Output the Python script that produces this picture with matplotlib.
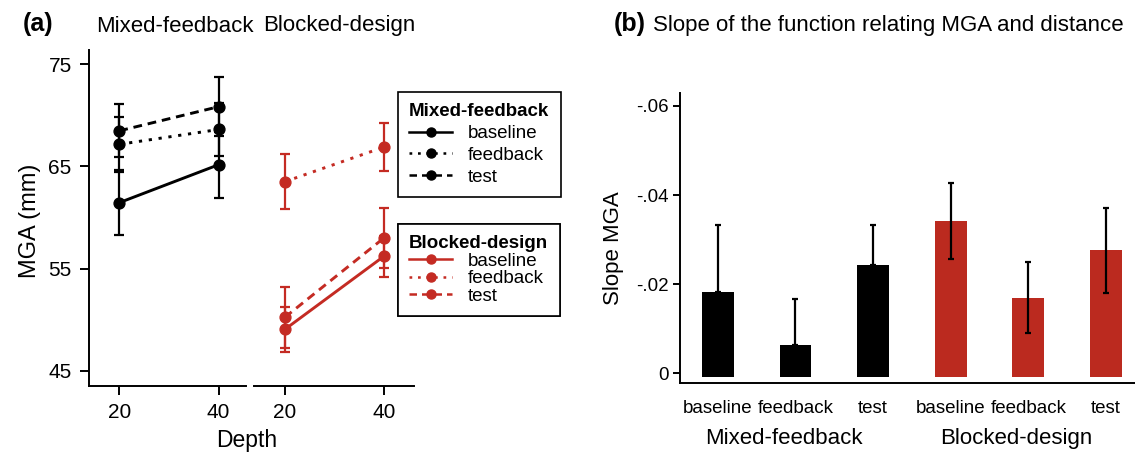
import matplotlib
matplotlib.use('Agg')
import matplotlib.pyplot as plt
import matplotlib.transforms as mtransforms
from matplotlib.lines import Line2D

plt.rcParams['font.family'] = ['Liberation Sans', 'DejaVu Sans']

# panel (a): MGA by depth
depth = [20, 40]
conditions = ['baseline', 'feedback', 'test']

mixed_baseline = [61.45, 65.16]
mixed_baseline_err = [3.15, 3.23]
mixed_feedback = [67.15, 68.6]
mixed_feedback_err = [2.7, 2.6]
mixed_test = [68.47, 70.83]
mixed_test_err = [2.6, 2.87]

blocked_baseline = [49.06, 56.23]
blocked_baseline_err = [2.2, 2.0]
blocked_feedback = [63.5, 66.89]
blocked_feedback_err = [2.7, 2.35]
blocked_test = [50.24, 58.02]
blocked_test_err = [3.0, 2.93]

# panel (b): slope of MGA vs distance (shown as magnitude, axis labelled negative)
mixed_slope = [0.0183, 0.0063, 0.0244]
mixed_slope_err = [0.0150, 0.0104, 0.0088]
blocked_slope = [0.0342, 0.0170, 0.0276]
blocked_slope_err = [0.0085, 0.0079, 0.0096]
groups = ['Mixed-feedback', 'Blocked-design']

red = '#c42b23'
bar_red = '#bb2a1f'
dotted = (0, (1.1, 2.3))
dashed = (0, (3.0, 2.0))
line_styles = ['-', dotted, dashed]

W, H = 1135, 454
fig = plt.figure(figsize=(W / 100, H / 100), dpi=100)


def px_axes(x0, y0, x1, y1):
    return fig.add_axes([x0 / W, 1 - y1 / H, (x1 - x0) / W, (y1 - y0) / H])


ax1 = px_axes(89, 50, 246, 386)
ax2 = px_axes(254, 50, 414, 386)
ax3 = px_axes(680, 93, 1135, 383)

panels = [
    (ax1, 'black', [mixed_baseline, mixed_feedback, mixed_test],
     [mixed_baseline_err, mixed_feedback_err, mixed_test_err], (13.9, 45.5)),
    (ax2, red, [blocked_baseline, blocked_feedback, blocked_test],
     [blocked_baseline_err, blocked_feedback_err, blocked_test_err], (13.8, 46.0)),
]

for ax, col, series, errs, xl in panels:
    for vals, err, ls in zip(series, errs, line_styles):
        ax.errorbar(depth, vals, yerr=err, fmt='none', ecolor=col,
                    elinewidth=1.6, capsize=3.3, capthick=1.6)
        ax.plot(depth, vals, color=col, lw=2.1, ls=ls, marker='o', ms=7.8)
    ax.set_xlim(*xl)
    ax.set_ylim(43.53, 76.37)
    ax.set_xticks(depth)
    ax.tick_params(labelsize=15, width=1.4, length=6.5)
    ax.tick_params(axis='x', pad=6)
    ax.tick_params(axis='y', pad=6)
    for s in ['top', 'right']:
        ax.spines[s].set_visible(False)
    for s in ['left', 'bottom']:
        ax.spines[s].set_linewidth(1.4)

ax1.set_yticks([45, 55, 65, 75])
ax2.spines['left'].set_visible(False)
ax2.set_yticks([])

# legends
for ax, col, title, top, spacing in [(ax2, 'black', 'Mixed-feedback', 92, 0.25),
                                     (ax2, red, 'Blocked-design', 224, 0.02)]:
    handles = [Line2D([0], [0], color=col, lw=1.8, ls=ls, marker='o', ms=6.5)
               for ls in line_styles]
    leg = ax.legend(handles, conditions, title=title, loc='upper left',
                    bbox_to_anchor=(398 / W, 1 - top / H),
                    bbox_transform=fig.transFigure, frameon=True,
                    fancybox=False, edgecolor='black', framealpha=1,
                    fontsize=13.5, title_fontproperties={'weight': 'bold', 'size': 13.5},
                    handlelength=2.3, handletextpad=0.8, labelspacing=spacing,
                    borderpad=0.6, borderaxespad=0, alignment='left')
    leg.get_frame().set_linewidth(1.2)
    ax.add_artist(leg)

# panel (b)
pos = list(range(6))
bar_base = -0.0009
ax3.bar(pos[:3], [v - bar_base for v in mixed_slope], bottom=bar_base,
        width=0.41, color='black')
ax3.bar(pos[3:], [v - bar_base for v in blocked_slope], bottom=bar_base,
        width=0.41, color=bar_red)
ax3.errorbar(pos[:3], mixed_slope, yerr=[[0, 0, 0], mixed_slope_err], fmt='none',
             ecolor='black', elinewidth=1.6, capsize=2.3, capthick=1.6)
ax3.errorbar(pos[3:], blocked_slope, yerr=blocked_slope_err, fmt='none',
             ecolor='black', elinewidth=1.6, capsize=2.3, capthick=1.6)
ax3.set_xlim(-0.488, 5.375)
ax3.set_ylim(-0.00218, 0.0629)
ax3.set_yticks([0, 0.02, 0.04, 0.06])
ax3.set_yticklabels(['0', '-.02', '-.04', '-.06'])
ax3.set_xticks(pos)
ax3.set_xticklabels(conditions * 2)
ax3.tick_params(axis='y', labelsize=13.5, width=1.4, length=5, pad=3)
ax3.tick_params(axis='x', labelsize=13.5, length=0, pad=12)
for s in ['top', 'right']:
    ax3.spines[s].set_visible(False)
for s in ['left', 'bottom']:
    ax3.spines[s].set_linewidth(1.4)

trans = mtransforms.blended_transform_factory(ax3.transData, ax3.transAxes)
ax3.text(0.85, -0.193, groups[0], transform=trans, ha='center', va='center', fontsize=16)
ax3.text(3.85, -0.193, groups[1], transform=trans, ha='center', va='center', fontsize=16)

# titles and axis labels
base_y = 1 - 31.5 / H
fig.text(23 / W, base_y, '(a)', fontsize=18, fontweight='bold', va='baseline')
fig.text(174.5 / W, base_y, groups[0], fontsize=16, ha='center', va='baseline')
fig.text(339.5 / W, base_y, groups[1], fontsize=16, ha='center', va='baseline')
fig.text(614 / W, base_y, '(b)', fontsize=18, fontweight='bold', va='baseline')
fig.text(653 / W, base_y, 'Slope of the function relating MGA and distance',
         fontsize=16, va='baseline')
fig.text(30 / W, 1 - 221 / H, 'MGA (mm)', fontsize=17, rotation=90,
         ha='center', va='center')
fig.text(247 / W, 1 - 440 / H, 'Depth', fontsize=16.5, ha='center', va='center')
fig.text(613 / W, 1 - 248 / H, 'Slope MGA', fontsize=16, rotation=90,
         ha='center', va='center')

fig.savefig('out.png', dpi=100)
